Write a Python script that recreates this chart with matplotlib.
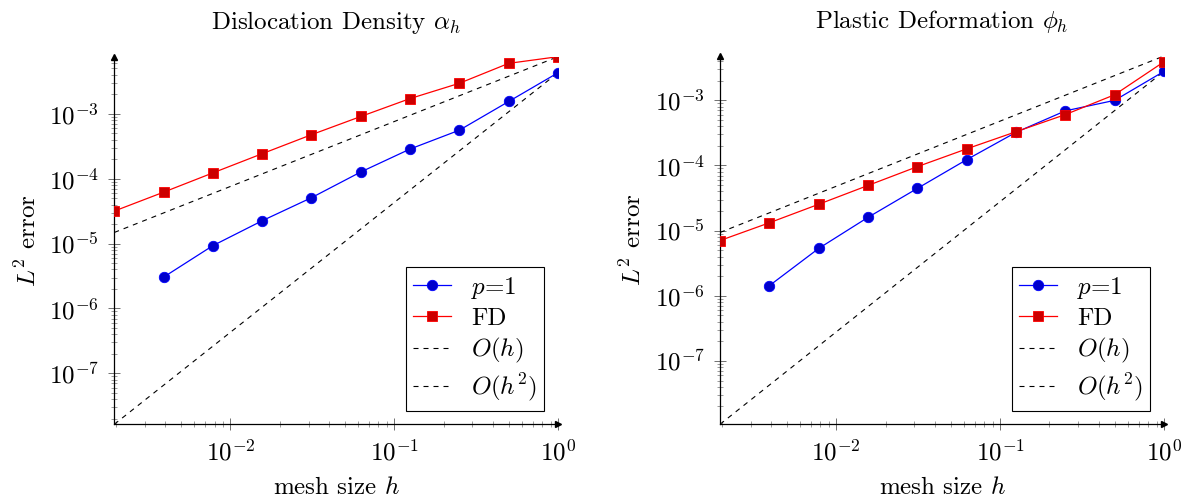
import matplotlib
matplotlib.use("Agg")
import matplotlib.pyplot as plt
from matplotlib.ticker import LogLocator, NullFormatter
import numpy as np

plt.rcParams['font.family'] = 'serif'
plt.rcParams['font.serif'] = ['cmr10']
plt.rcParams['mathtext.fontset'] = 'cm'
plt.rcParams['axes.formatter.use_mathtext'] = True
plt.rcParams['axes.unicode_minus'] = False

# mesh sizes h = 2^-9 ... 2^0
h_fd = [2.0 ** -k for k in range(9, -1, -1)]
h_p1 = [2.0 ** -k for k in range(8, -1, -1)]

# Dislocation density alpha_h
alpha_p1 = [3.04e-6, 9.3e-6, 2.25e-5, 5.1e-5, 1.27e-4, 2.87e-4, 5.6e-4, 1.55e-3, 4.3e-3]
alpha_fd = [3.17e-5, 6.2e-5, 1.23e-4, 2.43e-4, 4.77e-4, 9.1e-4, 1.72e-3, 2.96e-3, 6.0e-3, 7.6e-3]
alpha_c1 = 7.6e-3   # O(h) constant
alpha_c2 = 4.3e-3   # O(h^2) constant

# Plastic deformation phi_h
phi_p1 = [1.43e-6, 5.33e-6, 1.60e-5, 4.45e-5, 1.23e-4, 3.23e-4, 6.9e-4, 1.0e-3, 2.79e-3]
phi_fd = [7.05e-6, 1.32e-5, 2.54e-5, 4.94e-5, 9.6e-5, 1.80e-4, 3.30e-4, 6.05e-4, 1.22e-3, 3.91e-3]
phi_c1 = 4.8e-3
phi_c2 = 2.79e-3

titles = [r'Dislocation Density $\alpha_h$', r'Plastic Deformation $\phi_h$']

FS = 18


def draw_panel(ax, p1, fd, c1, c2, title):
    h = np.array(h_fd)
    ax.loglog(h_p1, p1, '-', color='blue', lw=0.9, marker='o', ms=7.5,
              mfc=(0, 0, 0.8), mec='blue', mew=0.6, label=r'$p$=1', zorder=4)
    ax.loglog(h_fd, fd, '-', color='red', lw=0.9, marker='s', ms=7,
              mfc=(0.8, 0, 0), mec='red', mew=0.6, label='FD', zorder=4)
    o1 = c1 * h
    o2 = c2 * h ** 2
    ax.loglog(h, o1, '--', color='black', lw=0.8, dashes=(4.5, 4.5), label=r'$O(h)$')
    ax.loglog(h, o2, '--', color='black', lw=0.8, dashes=(4.5, 4.5), label=r'$O(h^2)$')

    allv = np.concatenate([p1, fd, o1, o2])
    ax.set_xlim(h_fd[0], h_fd[-1])
    ax.set_ylim(allv.min(), allv.max())

    for s in ['top', 'right']:
        ax.spines[s].set_visible(False)
    for s in ['left', 'bottom']:
        ax.spines[s].set_linewidth(0.9)
    ax.plot(1, 0, '>', color='black', ms=5, transform=ax.transAxes, clip_on=False)
    ax.plot(0, 1, '^', color='black', ms=5, transform=ax.transAxes, clip_on=False)

    ax.xaxis.set_major_locator(LogLocator(base=10, numticks=10))
    ax.yaxis.set_major_locator(LogLocator(base=10, numticks=12))
    ax.xaxis.set_minor_locator(LogLocator(base=10, subs=np.arange(2, 10), numticks=12))
    ax.yaxis.set_minor_locator(LogLocator(base=10, subs=np.arange(2, 10), numticks=12))
    ax.xaxis.set_minor_formatter(NullFormatter())
    ax.yaxis.set_minor_formatter(NullFormatter())
    ax.tick_params(which='major', direction='inout', length=8, width=0.6, color='0.35',
                   labelsize=FS, pad=7)
    ax.tick_params(which='minor', direction='inout', length=5, width=0.5, color='0.45')

    ax.set_title(title, fontsize=FS, pad=20)
    ax.set_xlabel(r'mesh size $h$', fontsize=FS, labelpad=8)
    ax.set_ylabel(r'$L^2$ error', fontsize=FS, labelpad=6)

    leg = ax.legend(loc='lower right', fontsize=FS, fancybox=False, framealpha=1,
                    edgecolor='black', handlelength=1.5, borderpad=0.3,
                    labelspacing=0.25, handletextpad=0.8, borderaxespad=0.55)
    leg.get_frame().set_linewidth(0.8)


fig = plt.figure(figsize=(11.88, 5.03), dpi=100)
ax1 = fig.add_axes([0.0962, 0.1565, 0.3735, 0.7308])
ax2 = fig.add_axes([0.6061, 0.1565, 0.3737, 0.7322])

draw_panel(ax1, alpha_p1, alpha_fd, alpha_c1, alpha_c2, titles[0])
draw_panel(ax2, phi_p1, phi_fd, phi_c1, phi_c2, titles[1])

fig.savefig('out.png', dpi=100)
